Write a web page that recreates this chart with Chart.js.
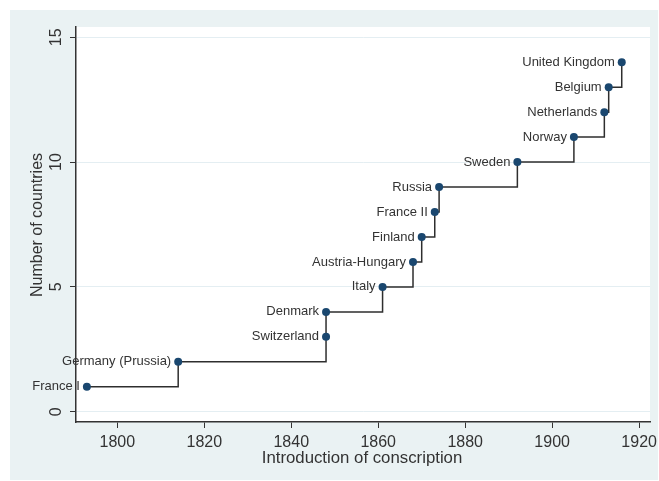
<!DOCTYPE html>
<html><head><meta charset="utf-8">
<script src="https://cdn.jsdelivr.net/npm/chart.js@4/dist/chart.umd.min.js"></script>
<style>html,body{margin:0;padding:0;background:#fff;}#wrap{width:659px;height:481px;}</style>
</head><body><div id="wrap"><canvas id="c" width="659" height="481"></canvas></div>
<script>
const countries = ["France I","Germany (Prussia)","Switzerland","Denmark","Italy","Austria-Hungary","Finland","France II","Russia","Sweden","Norway","Netherlands","Belgium","United Kingdom"];
const years = [1793,1814,1848,1848,1861,1868,1870,1873,1874,1892,1905,1912,1913,1916];
const counts = [1,2,3,4,5,6,7,8,9,10,11,12,13,14];
const xTicks = [1800,1820,1840,1860,1880,1900,1920];
const yTicks = [0,5,10,15];
const xTitle = "Introduction of conscription";
const yTitle = "Number of countries";

const FONT = "'Liberation Sans', Arial, sans-serif";
const TXT = "#333333";

const bgPlugin = {
  id: 'bg',
  beforeDraw(chart){
    const ctx = chart.ctx;
    ctx.save();
    ctx.fillStyle = '#ffffff';
    ctx.fillRect(0,0,chart.width,chart.height);
    ctx.fillStyle = '#EAF2F3';
    ctx.fillRect(10,10,648,470);
    const a = chart.chartArea;
    ctx.fillStyle = '#ffffff';
    ctx.fillRect(a.left,a.top,a.right-a.left,a.bottom-a.top);
    ctx.restore();
  },
  afterDraw(chart){
    const ctx = chart.ctx;
    const ys = chart.scales.y;
    ctx.save();
    ctx.fillStyle = TXT;
    ctx.font = "16px " + FONT;
    ctx.textAlign = 'center';
    ctx.textBaseline = 'middle';
    yTicks.forEach(v=>{
      const py = ys.getPixelForValue(v);
      ctx.save();
      ctx.translate(57, py);
      ctx.rotate(-Math.PI/2);
      ctx.fillText(String(v),0,0);
      ctx.restore();
    });
    ctx.font = "16px " + FONT;
    ctx.save();
    ctx.translate(38,225);
    ctx.rotate(-Math.PI/2);
    ctx.fillText(yTitle,0,0);
    ctx.restore();
    ctx.font = "16.8px " + FONT;
    ctx.fillText(xTitle,362,458);
    const meta = chart.getDatasetMeta(0);
    ctx.font = "13px " + FONT;
    ctx.textAlign = 'right';
    ctx.textBaseline = 'middle';
    meta.data.forEach((el,i)=>{
      ctx.fillText(countries[i], el.x-7, el.y);
    });
    ctx.restore();
  }
};

new Chart(document.getElementById('c'),{
  type:'scatter',
  data:{datasets:[{
    data: years.map((y,i)=>({x:y,y:counts[i]})),
    showLine:true,
    stepped:'before',
    borderColor:'#2e2e2e',
    borderWidth:1.5,
    pointRadius:4,
    pointBackgroundColor:'#1a476f',
    pointBorderColor:'#1a476f',
    pointBorderWidth:0,
    clip:false
  }]},
  options:{
    responsive:false,
    animation:false,
    devicePixelRatio:1,
    layout:{padding:{top:27,right:9,bottom:0,left:0}},
    plugins:{legend:{display:false},tooltip:{enabled:false}},
    scales:{
      x:{
        type:'linear',
        min:1790.5,max:1922.5,
        afterBuildTicks(s){ s.ticks = xTicks.map(v=>({value:v})); },
        afterFit(s){ s.height = 59; s.paddingLeft = 0; s.paddingRight = 0; },
        ticks:{font:{size:16,family:FONT},color:TXT,padding:5,maxRotation:0,minRotation:0,callback:(v)=>String(v)},
        grid:{drawOnChartArea:false,drawTicks:true,tickLength:6,tickColor:'#333333',tickWidth:1},
        border:{display:true,color:'#333333',width:1.5},
        title:{display:false}
      },
      y:{
        type:'linear',
        min:-0.41,max:15.41,
        afterBuildTicks(s){ s.ticks = yTicks.map(v=>({value:v})); },
        afterFit(s){ s.width = 76; s.paddingTop = 0; s.paddingBottom = 0; },
        ticks:{display:false},
        grid:{drawOnChartArea:true,color:'#E4EEF2',lineWidth:1,drawTicks:true,tickLength:6,tickColor:'#333333',tickWidth:1},
        border:{display:true,color:'#333333',width:1.5},
        title:{display:false}
      }
    }
  },
  plugins:[bgPlugin]
});
</script></body></html>
